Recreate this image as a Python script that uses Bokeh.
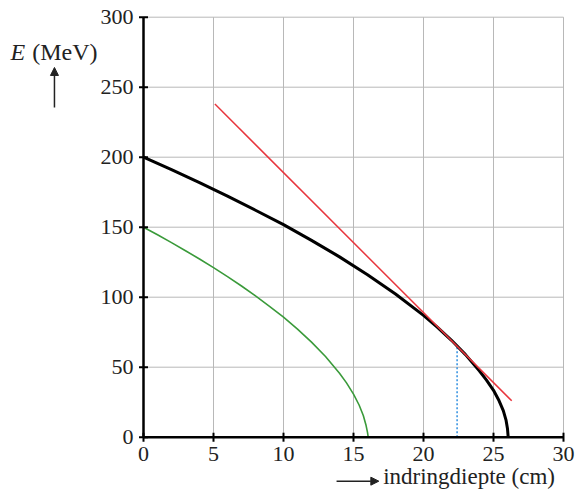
from bokeh.plotting import figure
from bokeh.models import Range1d, Arrow, NormalHead
from bokeh.core.properties import value
from bokeh.embed import file_html
from bokeh.resources import INLINE

# data
black_x = [0, 2, 4, 6, 8, 10, 12, 14, 16, 18, 20, 21, 22, 23, 24, 24.5, 25, 25.4, 25.7, 25.9, 26.0, 26.05]
black_E = [200, 191.1, 181.8, 172.2, 162.1, 151.8, 140.6, 128.8, 116.1, 102.3, 87.0, 78.5, 69.2, 59.0, 47.3, 40.8, 33.5, 26.0, 19.0, 12.0, 6.0, 0]
green_x = [0, 1, 2, 3, 4, 5, 6, 7, 8, 9, 10, 11, 12, 13, 14, 14.5, 15, 15.4, 15.7, 15.9, 16.0, 16.05]
green_E = [150, 144.6, 139.0, 133.2, 127.3, 121.1, 114.7, 108.0, 101.0, 93.5, 85.7, 77.2, 67.9, 57.6, 45.7, 38.8, 30.8, 23.0, 15.5, 8.3, 3.5, 0]
red_x = [5.1, 26.3]
red_E = [238, 26]
blue_x = [22.4, 22.4]
blue_E = [0, 64.5]
x_ticks = [0, 5, 10, 15, 20, 25, 30]
y_ticks = [0, 50, 100, 150, 200, 250, 300]
x_tick_labels = ["0", "5", "10", "15", "20", "25", "30"]
y_tick_labels = ["0", "50", "100", "150", "200", "250", "300"]
x_title = "indringdiepte (cm)"
y_title_symbol = "E"
y_title_unit = "(MeV)"

FONT = "Liberation Serif"
TXT = "#222222"

W, H = 576, 490
PX_X = 14.0   # pixels per cm
PX_Y = 1.4    # pixels per MeV
X0_PX = 143.0
Y0_PX = 436.7

p = figure(width=W, height=H, output_backend="svg", toolbar_location=None,
           x_range=Range1d(-X0_PX / PX_X, (W - X0_PX) / PX_X),
           y_range=Range1d(-(H - Y0_PX) / PX_Y, Y0_PX / PX_Y),
           x_axis_type=None, y_axis_type=None,
           min_border_left=0, min_border_right=0, min_border_top=0, min_border_bottom=0)
p.outline_line_color = None
p.background_fill_color = "white"
p.border_fill_color = "white"
p.grid.visible = False

xmin, xmax = x_ticks[0], x_ticks[-1]
ymin, ymax = y_ticks[0], y_ticks[-1]

# grid
p.segment(x0=x_ticks, y0=[ymin] * len(x_ticks), x1=x_ticks, y1=[ymax] * len(x_ticks),
          line_color="#b8b8b8", line_width=1)
p.segment(x0=[xmin] * len(y_ticks), y0=y_ticks, x1=[xmax] * len(y_ticks), y1=y_ticks,
          line_color="#b8b8b8", line_width=1)

# curves
p.line(green_x, green_E, line_color="#3a9a3a", line_width=1.6)
p.line(blue_x, blue_E, line_color="#2f8fe0", line_width=1.5, line_dash="2 2")
p.line(black_x, black_E, line_color="black", line_width=3)
p.line(red_x, red_E, line_color="#e8353d", line_width=1.5)

# axes
tx = 4.5 / PX_X
ty = 4.5 / PX_Y
p.segment(x0=[xmin], y0=[ymin], x1=[xmin], y1=[ymax], line_color="black", line_width=2.5)
p.segment(x0=[xmin], y0=[ymin], x1=[xmax], y1=[ymin], line_color="black", line_width=2.5)
p.segment(x0=x_ticks, y0=[ymin - ty] * len(x_ticks), x1=x_ticks, y1=[ymin + ty] * len(x_ticks),
          line_color="black", line_width=2)
p.segment(x0=[xmin - tx] * len(y_ticks), y0=y_ticks, x1=[xmin + tx] * len(y_ticks), y1=y_ticks,
          line_color="black", line_width=2)

# tick labels
p.text(x=x_ticks, y=[ymin] * len(x_ticks), text=x_tick_labels, text_align="center",
       text_baseline="top", y_offset=10, text_font=value(FONT), text_font_size="22px",
       text_color=TXT)
p.text(x=[xmin] * len(y_ticks), y=y_ticks, text=y_tick_labels, text_align="right",
       text_baseline="middle", x_offset=-10, text_font=value(FONT), text_font_size="22px",
       text_color=TXT)

# axis titles
p.text(x=[-9.5], y=[275.3], text=[y_title_symbol], text_font=value(FONT), text_font_size="24px",
       text_font_style="italic", text_color=TXT, text_baseline="alphabetic")
p.text(x=[-7.95], y=[275.3], text=[y_title_unit], text_font=value(FONT), text_font_size="24px",
       text_color=TXT, text_baseline="alphabetic")
p.add_layout(Arrow(x_start=-6.36, y_start=235.5, x_end=-6.36, y_end=264.1,
                   line_color=TXT, line_width=1.5,
                   end=NormalHead(size=8, fill_color=TXT, line_color=TXT)))
p.text(x=[17.12], y=[-27.8], text=[x_title], text_font=value(FONT), text_font_size="23px",
       text_color=TXT, text_baseline="alphabetic")
p.add_layout(Arrow(x_start=13.79, y_start=-31.4, x_end=16.81, y_end=-31.4,
                   line_color=TXT, line_width=1.5,
                   end=NormalHead(size=8, fill_color=TXT, line_color=TXT)))

open("out.html", "w").write(file_html(p, INLINE))
